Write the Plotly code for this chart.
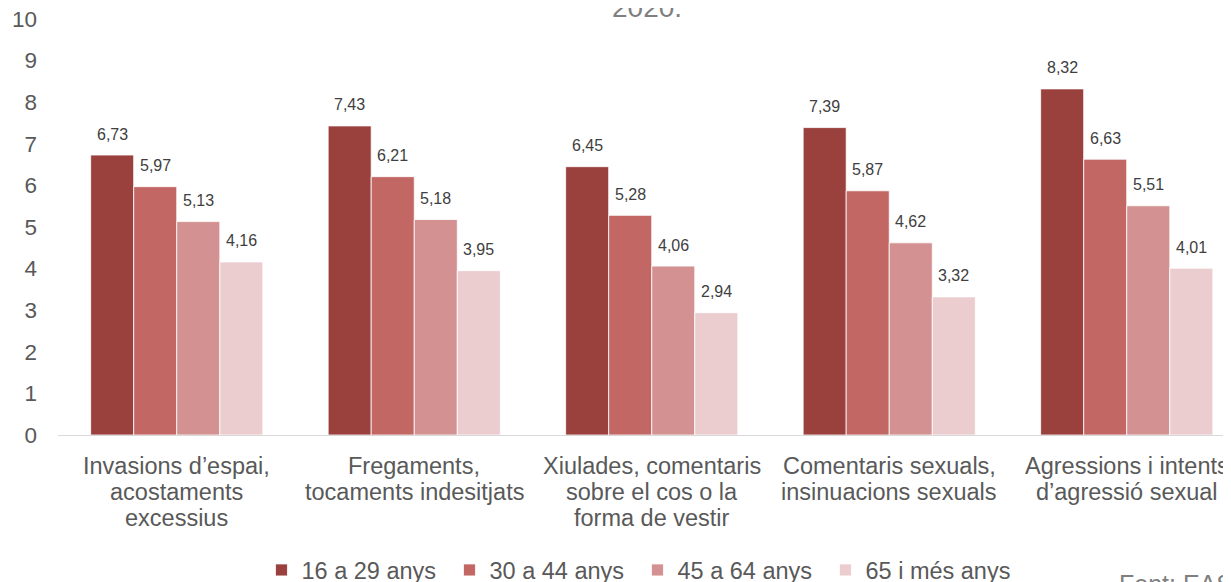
import plotly.graph_objects as go

categories = [
    "Invasions d’espai,<br>acostaments<br>excessius",
    "Fregaments,<br>tocaments indesitjats",
    "Xiulades, comentaris<br>sobre el cos o la<br>forma de vestir",
    "Comentaris sexuals,<br>insinuacions sexuals",
    "Agressions i intents<br>d’agressió sexual",
]
series_names = ["16 a 29 anys", "30 a 44 anys", "45 a 64 anys", "65 i més anys"]
v_16_29 = [6.73, 7.43, 6.45, 7.39, 8.32]
v_30_44 = [5.97, 6.21, 5.28, 5.87, 6.63]
v_45_64 = [5.13, 5.18, 4.06, 4.62, 5.51]
v_65 = [4.16, 3.95, 2.94, 3.32, 4.01]
series_values = [v_16_29, v_30_44, v_45_64, v_65]
colors = ["#9A403D", "#C26764", "#D39291", "#EBCDCF"]

FONT = "Arial, 'Liberation Sans', sans-serif"
BARGAP = 0.275
n = len(series_names)
idx = list(range(len(categories)))

fig = go.Figure()
annotations = []
for j, (name, vals, col) in enumerate(zip(series_names, series_values, colors)):
    fig.add_trace(go.Bar(
        x=idx, y=vals, name=name,
        marker=dict(color=col, line=dict(color="white", width=0.8)),
    ))
    w = (1 - BARGAP) / n
    for i, v in zip(idx, vals):
        annotations.append(dict(
            x=i + (j - (n - 1) / 2) * w, y=v, xref="x", yref="y",
            text=f"{v:.2f}".replace(".", ","), showarrow=False,
            yshift=21, font=dict(size=16, color="#404040", family=FONT),
        ))

# category labels (line spacing as in the reference)
for i, cat in zip(idx, categories):
    for k, line in enumerate(cat.split("<br>")):
        annotations.append(dict(
            x=i, y=0, xref="x", yref="y", text=line, showarrow=False,
            xanchor="center", yanchor="middle", yshift=-(31 + 26 * k),
            font=dict(size=23.5, color="#595959", family=FONT),
        ))

annotations.append(dict(
    text="2020.", x=0.5025, y=0.986, xref="paper", yref="paper",
    showarrow=False, xanchor="center", yanchor="bottom",
    font=dict(size=28, color="#7F7F7F", family=FONT),
))
annotations.append(dict(
    text="Font: EAS", x=0.9025, y=-0.3197, xref="paper", yref="paper",
    showarrow=False, xanchor="left", yanchor="top",
    font=dict(size=25, color="#7F7F7F", family=FONT),
))

# page body has an 8px default margin: the figure is offset accordingly
fig.update_layout(
    width=1223, height=574,
    margin=dict(l=50, r=0, t=11, b=147, autoexpand=False),
    paper_bgcolor="white", plot_bgcolor="white",
    barmode="group", bargap=BARGAP, bargroupgap=0,
    font=dict(family=FONT, color="#595959", size=20),
    showlegend=True,
    legend=dict(orientation="h", x=0.494, xanchor="center", y=-0.272, yanchor="top",
                font=dict(size=23.5, color="#595959"), itemwidth=30,
                entrywidth=143, traceorder="normal"),
    annotations=annotations,
)
fig.update_xaxes(
    range=[-0.5, 4.439], tickmode="array", tickvals=idx, showticklabels=False,
    showline=True, linecolor="#D9D9D9", linewidth=1, showgrid=False,
    ticks="", automargin=False,
)
fig.update_yaxes(
    range=[0, 10], dtick=1, showgrid=False, zeroline=False, showline=False,
    ticks="", tickfont=dict(size=22.5, color="#595959"), ticklabelstandoff=20,
    ticklabeloverflow="allow", automargin=False,
)

fig.write_html("out.html")
